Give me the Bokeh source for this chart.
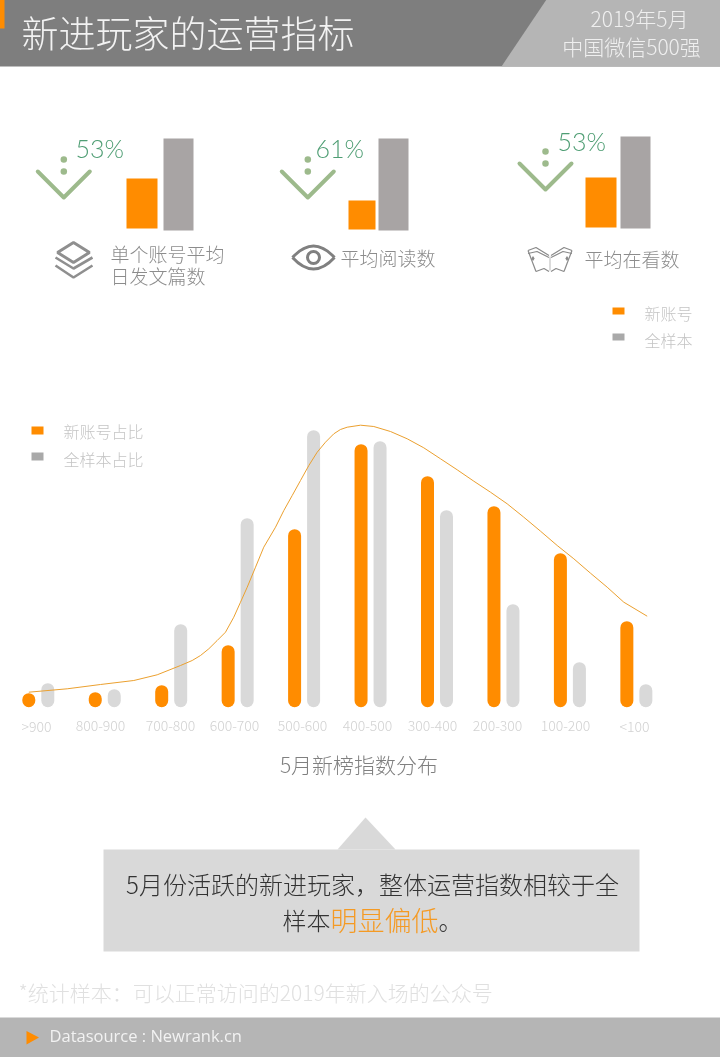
from bokeh.plotting import figure
from bokeh.embed import file_html
from bokeh.resources import INLINE
from bokeh.core.properties import value
from bokeh.models import Range1d

# ---------- data ----------
score_bins = [">900", "800-900", "700-800", "600-700", "500-600", "400-500", "300-400", "200-300", "100-200", "<100"]
new_share = [0.7, 0.75, 1.1, 3.1, 8.9, 13.15, 11.55, 10.05, 7.7, 4.3]
all_share = [1.2, 0.9, 4.15, 9.45, 13.85, 13.3, 9.85, 5.15, 2.25, 1.15]
curve_index = [-0.143, 0.435, 0.936, 1.437, 1.789, 2.140, 2.316, 2.441, 2.566, 2.692, 2.817, 2.942, 3.043, 3.144, 3.269,
               3.393, 3.570, 3.695, 3.821, 3.946, 4.071, 4.197, 4.322,
               4.447, 4.547, 4.649, 4.849, 5.049, 5.300, 5.552, 5.801, 6.053, 6.304, 6.554, 6.805, 7.056, 7.306, 7.558,
               7.809, 8.059, 8.310, 8.561, 8.811, 9.163]
curve_value = [0.75, 0.92, 1.135, 1.335, 1.62, 2.085, 2.335, 2.585, 2.92, 3.335, 3.75, 4.5, 5.25, 6.0, 7.0,
               8.0, 9.0, 9.835, 10.585, 11.335, 12.085, 12.75, 13.25,
               13.67, 13.885, 14.0, 14.1, 14.035, 13.785, 13.42, 12.97, 12.42, 11.87, 11.3, 10.75, 10.17, 9.5, 8.8,
               8.085, 7.42, 6.7, 6.0, 5.25, 4.55]
metric_names = ["单个账号平均\n日发文篇数", "平均阅读数", "平均在看数"]
metric_drop = ["53%", "61%", "53%"]
metric_new = [50, 29, 50]
metric_all = [92, 92, 92]

# ---------- layout / style ----------
W, H = 720, 1057
CJK = value("Noto Sans CJK SC Light")
ORANGE = "#ff8c00"
GREY_BAR = "#d9d9d9"
MINI_GREY = "#a8a4a4"
GREEN = "#9dba8c"

p = figure(width=W + 1, height=H + 1, x_range=Range1d(-1, W), y_range=Range1d(H, -1), output_backend="svg",
           toolbar_location=None, x_axis_location=None, y_axis_location=None, min_border=0,
           outline_line_color=None, background_fill_color="white", border_fill_color="white")
p.grid.visible = False
p.styles = {"position": "fixed", "left": "-1px", "top": "-1px"}


def txt(x, y, s, size, color, align="left", font=CJK):
    p.text([x - 1], [y - 2], text=[s], text_font=font, text_font_size=f"{size}px", text_color=color,
           text_align=align, text_baseline="middle")


# header
p.quad(left=-1, right=W, top=-1, bottom=66, fill_color="#7e7e7e", line_color=None)
p.patch([546, W, W, 501], [-1, -1, 66, 66], fill_color="#b5b5b5", line_color=None)
p.quad(left=-1, right=4, top=-1, bottom=28, fill_color=ORANGE, line_color=None)
txt(22, 33, "新进玩家的运营指标", 37, "#f2f2f2")
txt(640, 19, "2019年5月", 21, "#efefef", "center")
txt(632, 47, "中国微信500强", 21, "#efefef", "center")

# metric panels
orange_left = [126, 348, 585]
orange_right = [157, 375, 616]
orange_base = [228, 229, 227]
grey_left = [163, 378, 620]
grey_right = [193, 408, 650]
grey_base = [230, 230, 228]
p.quad(left=orange_left, right=orange_right, bottom=orange_base,
       top=[b - v for b, v in zip(orange_base, metric_new)], fill_color=ORANGE, line_color=None)
p.quad(left=grey_left, right=grey_right, bottom=grey_base,
       top=[b - v for b, v in zip(grey_base, metric_all)], fill_color=MINI_GREY, line_color=None)

vee_x = [63.3, 307.3, 545]
vee_y = [171, 171, 163]
pct_x = [76, 316, 558]
pct_y = [149, 149, 142]
for cx, cy, px_, py_, s in zip(vee_x, vee_y, pct_x, pct_y, metric_drop):
    p.line([cx - 26, cx, cx + 26], [cy, cy + 26, cy], line_color=GREEN, line_width=4, line_cap="round", line_join="round")
    p.scatter([cx, cx], [cy - 12, cy], size=6.5, fill_color=GREEN, line_color=None)
    txt(px_, py_, s, 25, "#4f9e74", font=value("Lato Light"))

line1, line2 = metric_names[0].split("\n")
txt(111, 255, line1, 19, "#8c8c8c")
txt(111, 277, line2, 19, "#8c8c8c")
txt(341, 259, metric_names[1], 19, "#8c8c8c")
txt(585, 260, metric_names[2], 19, "#8c8c8c")

# layers icon
ICON = "#8f8f8f"
p.patch([57, 73, 89, 73], [252, 242, 252, 262], fill_color=None, line_color=ICON, line_width=3)
p.line([55, 73, 92], [257, 268, 257], line_color=ICON, line_width=2.6)
p.line([55, 73, 92], [265, 277, 265], line_color=ICON, line_width=2.6)
# eye icon
p.quadratic(x0=[292, 292], y0=[257, 257], x1=[334, 334], y1=[257, 257], cx=[313, 313], cy=[234, 280],
            line_color="#808080", line_width=3)
p.circle([313], [257], radius=6, fill_color=None, line_color="#808080", line_width=3)
# book icon
BOOK = "#8a8a8a"
for sgn in (-1, 1):
    bx = lambda d: 549.5 + sgn * d
    p.multi_line([[bx(22), bx(14), bx(1)], [bx(22), bx(13), bx(1)], [bx(22), bx(14)], [bx(14), bx(6), bx(1)]],
                 [[250, 247, 255], [253, 251, 257], [250, 271], [271, 268, 271]],
                 line_color=BOOK, line_width=1.2)
    p.scatter([bx(17)], [258], size=5, marker="diamond", fill_color=BOOK, line_color=None)
p.line([549.5, 549.5], [256, 270], line_color="#cfcfcf", line_width=1.5)

# top legend
p.quad(left=[612], right=[624], top=[307], bottom=[314], fill_color=ORANGE, line_color=None)
p.quad(left=[612], right=[624], top=[333], bottom=[340], fill_color="#a9a9a9", line_color=None)
txt(645, 314, "新账号", 16, "#c4c4c4")
txt(645, 341, "全样本", 16, "#c4c4c4")

# distribution chart, on its own scales: bin index and share value
p.extra_x_ranges["bin"] = Range1d((-1 - 37.8) / 66.45, (W - 37.8) / 66.45)
p.extra_y_ranges["share"] = Range1d((706.7 - H) / 20, 707.7 / 20)
idx = list(range(len(score_bins)))
OFFSET = 9.5 / 66.45
BAR_W = 13 / 66.45
p.vbar(x=[i + OFFSET for i in idx], top=all_share, bottom=0, width=BAR_W, fill_color=GREY_BAR, line_color=None,
       border_radius=7, x_range_name="bin", y_range_name="share")
p.vbar(x=[i - OFFSET for i in idx], top=new_share, bottom=0, width=BAR_W, fill_color=ORANGE, line_color=None,
       border_radius=7, x_range_name="bin", y_range_name="share")
p.line(curve_index, curve_value, line_color="#eba02f", line_width=1, line_join="round",
       x_range_name="bin", y_range_name="share")

tick_x = [37, 101, 171, 235, 303, 368, 433, 498, 566, 635]
for tx, s in zip(tick_x, score_bins):
    txt(tx, 727, s, 14, "#d2d2d2", "center")
txt(359.5, 765, "5月新榜指数分布", 21, "#808080", "center")

# chart legend
p.quad(left=[31], right=[43], top=[426], bottom=[434], fill_color=ORANGE, line_color=None)
p.quad(left=[31], right=[43], top=[452], bottom=[460], fill_color="#a9a9a9", line_color=None)
txt(64, 432, "新账号占比", 16, "#c4c4c4")
txt(64, 460, "全样本占比", 16, "#c4c4c4")

# callout
p.patch([365, 395, 337], [817, 849, 849], fill_color=GREY_BAR, line_color=None)
p.quad(left=103, right=639, top=849, bottom=951, fill_color=GREY_BAR, line_color=None)
txt(373, 885, "5月份活跃的新进玩家，整体运营指数相较于全", 24, "#333333", "center")
txt(283, 921, "样本", 24, "#333333")
txt(331, 921, "明显偏低", 27, "#f59a23")
txt(439, 921, "。", 24, "#333333")

# footnote and footer
txt(19, 993, "*统计样本：可以正常访问的2019年新入场的公众号", 21, "#e0e0e0")
p.quad(left=-1, right=W, top=1017, bottom=H, fill_color="#b5b5b5", line_color=None)
p.patch([26, 38.5, 26], [1030.5, 1037, 1044], fill_color=ORANGE, line_color=None)
txt(50, 1037, "Datasource : Newrank.cn", 16.5, "#f2f2f2", font=value("Open Sans"))

open("out.html", "w").write(file_html(p, INLINE))
